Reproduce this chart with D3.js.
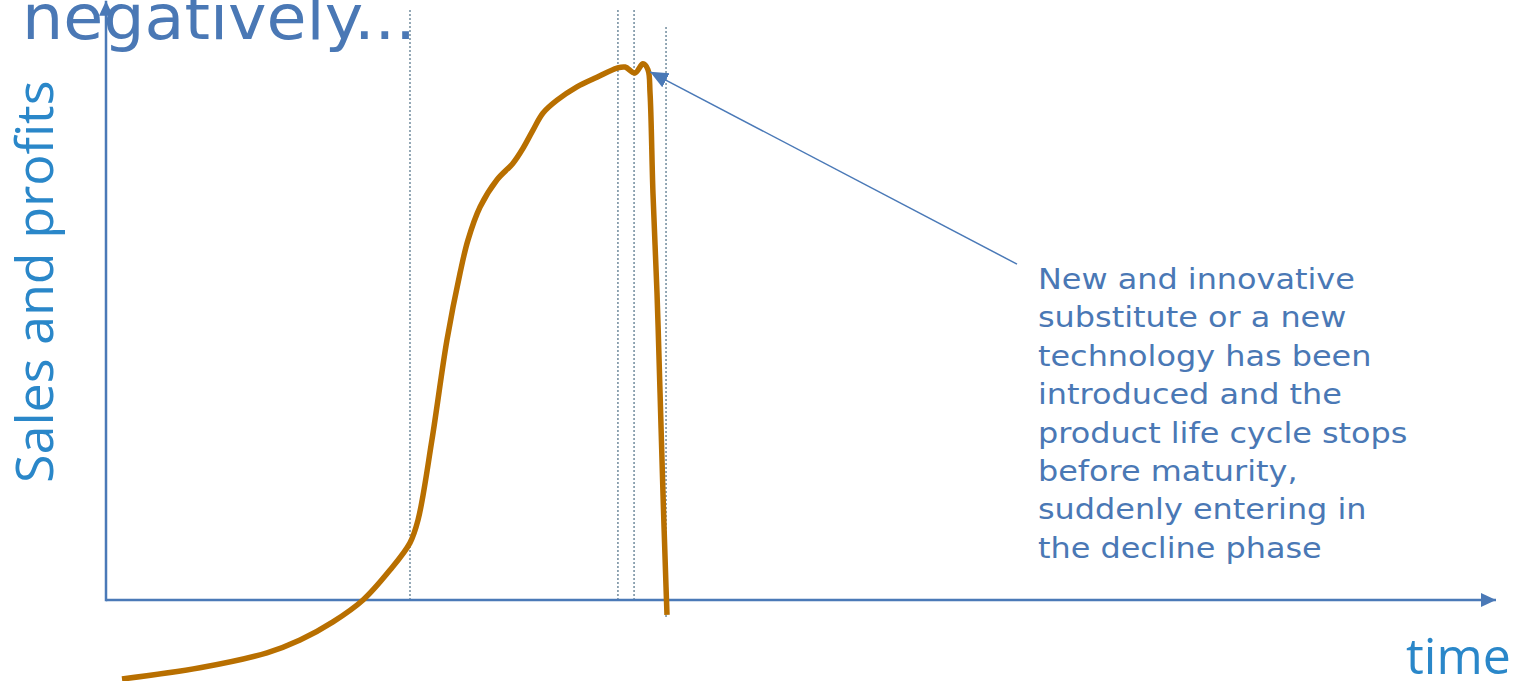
<!DOCTYPE html>
<html>
<head>
<meta charset="utf-8">
<script src="https://cdn.jsdelivr.net/npm/d3@7"></script>
<style>
  html, body { margin: 0; padding: 0; background: #ffffff; }
  svg { display: block; }
</style>
</head>
<body>
<svg id="chart" width="1520" height="681"></svg>
<script>
// Product life cycle interrupted by a substitute: sales rise, then collapse.
const time = [1.15, 6.76, 11.58, 13.96, 16.33, 18.49, 20.43, 21.87, 22.45, 23.45, 24.53, 25.47,
  26.04, 26.91, 28.13, 29.28, 30.00, 30.72, 31.44, 32.45, 33.88, 35.32, 36.76, 37.34, 38.06,
  38.63, 38.99, 39.14, 39.35, 39.64, 39.86, 40.07, 40.29, 40.36];
const sales = [-14.8, -12.7, -9.9, -7.5, -4.1, 0, 5.6, 10.7, 15.0, 30.0, 48.7, 61.2,
  67.4, 73.6, 78.7, 81.8, 84.6, 88.0, 91.2, 93.6, 96.1, 97.9, 99.6, 99.8, 98.7,
  100.4, 99.3, 94.9, 76.2, 57.5, 38.8, 20.0, 2.4, -2.8];

// Phase boundaries (dotted guides): time position, top and bottom in sales units
const guideTime = [21.87, 36.83, 37.99, 40.29];
const guideTop = [110.5, 110.5, 110.5, 107.3];
const guideBottom = [0, 0, 0, -3.2];

const titleText = "negatively...";
const yLabel = "Sales and profits";
const xLabel = "time";
const noteLines = [
  "New and innovative",
  "substitute or a new",
  "technology has been",
  "introduced and the",
  "product life cycle stops",
  "before maturity,",
  "suddenly entering in",
  "the decline phase"
];
// Where the note arrow starts (time, sales) and the point it indicates
const noteFrom = [65.54, 62.9];
const noteTo = [39.14, 98.9];

const axisColor = "#4a79b7";
const curveColor = "#b86f00";
const guideColor = "#5b7a8f";

const svg = d3.select("#chart");

const x = d3.scaleLinear().domain([0, 100]).range([106, 1496]);
const y = d3.scaleLinear().domain([0, 100]).range([600, 66]);

const defs = svg.append("defs");
defs.append("marker")
  .attr("id", "axisHead")
  .attr("markerUnits", "userSpaceOnUse")
  .attr("markerWidth", 16).attr("markerHeight", 14)
  .attr("refX", 15).attr("refY", 7)
  .attr("orient", "auto")
  .append("path")
  .attr("d", "M0,0 L15,7 L0,14 Z")
  .attr("fill", axisColor);
defs.append("marker")
  .attr("id", "noteHead")
  .attr("markerUnits", "userSpaceOnUse")
  .attr("markerWidth", 20).attr("markerHeight", 18)
  .attr("refX", 18).attr("refY", 8)
  .attr("orient", "auto")
  .append("path")
  .attr("d", "M0,0 L18,8 L0,16 Z")
  .attr("fill", axisColor);

// Dotted phase guides
svg.append("g").selectAll("line")
  .data(guideTime)
  .join("line")
  .attr("x1", d => x(d)).attr("x2", d => x(d))
  .attr("y1", (d, i) => y(guideTop[i]))
  .attr("y2", (d, i) => y(guideBottom[i]))
  .attr("stroke", guideColor)
  .attr("stroke-width", 1.3)
  .attr("stroke-dasharray", "2,2");

// Axes with arrowheads
svg.append("line")
  .attr("x1", x(0)).attr("y1", y(0))
  .attr("x2", x(100)).attr("y2", y(0))
  .attr("stroke", axisColor).attr("stroke-width", 2.5)
  .attr("marker-end", "url(#axisHead)");
svg.append("line")
  .attr("x1", x(0)).attr("y1", y(0) + 1.25)
  .attr("x2", x(0)).attr("y2", y(112.2))
  .attr("stroke", axisColor).attr("stroke-width", 2.5)
  .attr("marker-end", "url(#axisHead)");

// Sales curve
const pts = time.map((t, i) => [t, sales[i]]);
const line = d3.line()
  .x(d => x(d[0]))
  .y(d => y(d[1]))
  .curve(d3.curveCatmullRom.alpha(0.5));
svg.append("path")
  .datum(pts)
  .attr("d", line)
  .attr("fill", "none")
  .attr("stroke", curveColor)
  .attr("stroke-width", 5.5)
  .attr("stroke-linejoin", "round");

// Note arrow
svg.append("line")
  .attr("x1", x(noteFrom[0])).attr("y1", y(noteFrom[1]))
  .attr("x2", x(noteTo[0])).attr("y2", y(noteTo[1]))
  .attr("stroke", axisColor).attr("stroke-width", 1.5)
  .attr("marker-end", "url(#noteHead)");

// Note text (slightly widened lettering)
svg.append("g")
  .attr("transform", "translate(1038,289) scale(1.1,1)")
  .append("text")
  .attr("fill", "#4a78b5")
  .attr("font-family", "'DejaVu Sans', Verdana, sans-serif")
  .attr("font-size", 29)
  .selectAll("tspan")
  .data(noteLines)
  .join("tspan")
  .attr("x", 0)
  .attr("dy", (d, i) => i === 0 ? 0 : 38.4)
  .text(d => d);

// Title fragment at top, partly above the page edge
svg.append("g")
  .attr("transform", "translate(22,39) scale(1.05,1)")
  .append("text")
  .attr("fill", "#4a78b5")
  .attr("font-family", "'DejaVu Sans', Verdana, sans-serif")
  .attr("font-size", 62)
  .text(titleText);

// Axis labels
svg.append("text")
  .attr("transform", "translate(53,483) rotate(-90)")
  .attr("fill", "#2a87c9")
  .attr("font-family", "'Open Sans', 'Noto Sans', sans-serif")
  .attr("font-size", 52)
  .text(yLabel);
svg.append("text")
  .attr("x", 1406).attr("y", 674)
  .attr("fill", "#2a87c9")
  .attr("font-family", "'Open Sans', 'Noto Sans', sans-serif")
  .attr("font-size", 50)
  .text(xLabel);
</script>
</body>
</html>
